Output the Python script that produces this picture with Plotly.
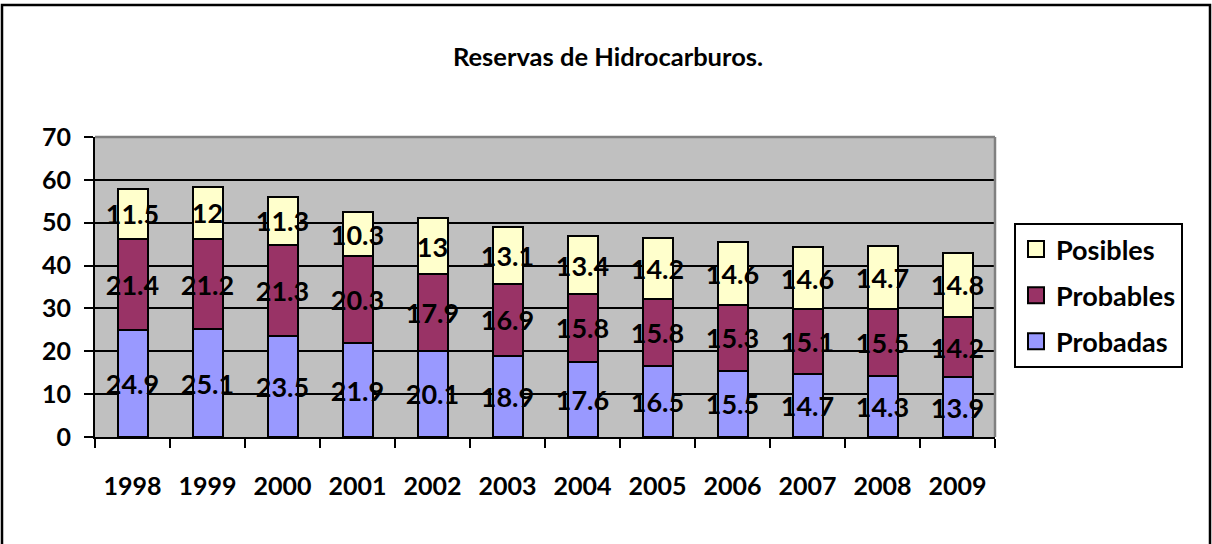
import plotly.graph_objects as go

years = ["1998", "1999", "2000", "2001", "2002", "2003", "2004", "2005", "2006", "2007", "2008", "2009"]
probadas = [24.9, 25.1, 23.5, 21.9, 20.1, 18.9, 17.6, 16.5, 15.5, 14.7, 14.3, 13.9]
probables = [21.4, 21.2, 21.3, 20.3, 17.9, 16.9, 15.8, 15.8, 15.3, 15.1, 15.5, 14.2]
posibles = [11.5, 12, 11.3, 10.3, 13, 13.1, 13.4, 14.2, 14.6, 14.6, 14.7, 14.8]

FONT = "Lato"
W, H = 1212, 544
L, R, T, B = 95, 217, 137, 107
pw, ph = W - L - R, H - T - B

def fmt(v):
    return ("%g" % v)

series = [("Probadas", probadas, "#9999FF", 3),
          ("Probables", probables, "#993366", 2),
          ("Posibles", posibles, "#FFFFCC", 1)]

fig = go.Figure()
for name, vals, col, rank in series:
    fig.add_trace(go.Bar(
        x=years, y=vals, name=name, showlegend=False,
        marker=dict(color=col, line=dict(color="black", width=2)),
        text=[fmt(v) for v in vals], textposition="inside", textangle=0,
        insidetextanchor="middle", constraintext="none",
        textfont=dict(family=FONT, size=27, color="black", weight="bold"),
        cliponaxis=False,
    ))
# legend entries (square swatches with black outline)
for name, vals, col, rank in series:
    fig.add_trace(go.Scatter(
        x=[None], y=[None], mode="markers", name=name, legendgroup=name, legendrank=rank,
        marker=dict(symbol="square", size=17, color=col, line=dict(color="black", width=2)),
    ))

def px_x(p):
    return (p - L) / pw

def px_y(p):
    return (H - B - p) / ph

shapes = [
    dict(type="rect", xref="paper", yref="paper",
         x0=px_x(2), x1=px_x(1210), y0=px_y(560), y1=px_y(5),
         line=dict(color="black", width=2.5), fillcolor="rgba(0,0,0,0)", layer="below"),
    dict(type="line", xref="paper", yref="paper", x0=0, x1=1, y0=1, y1=1,
         line=dict(color="#808080", width=2.5)),
    dict(type="line", xref="paper", yref="paper", x0=1, x1=1, y0=0, y1=1,
         line=dict(color="#808080", width=2.5)),
]

fig.update_layout(
    width=W, height=H,
    margin=dict(l=L, r=R, t=T, b=B),
    paper_bgcolor="white", plot_bgcolor="#C0C0C0",
    barmode="stack", bargap=0.6,
    font=dict(family=FONT, color="black"),
    title=dict(text="<b>Reservas de Hidrocarburos.</b>", x=px_x(608), xref="paper",
               y=1 - 57 / H, yanchor="middle", xanchor="center",
               font=dict(family=FONT, size=25.5, color="black")),
    legend=dict(x=px_x(1014), y=px_y(223), xanchor="left", yanchor="top",
                bordercolor="black", borderwidth=2, bgcolor="white",
                traceorder="grouped", tracegroupgap=8,
                font=dict(family=FONT, size=27, color="black", weight="bold"),
                itemwidth=30),
    shapes=shapes,
    showlegend=True,
)
fig.update_yaxes(range=[0, 70], dtick=10, showgrid=True, gridcolor="black", gridwidth=1.5,
                 showline=True, linecolor="black", linewidth=2, ticks="outside", ticklen=9,
                 tickcolor="black", tickwidth=2, zeroline=False,
                 tickfont=dict(family=FONT, size=25, color="black", weight="bold"),
                 ticklabelstandoff=8)
fig.update_xaxes(type="category", showline=True, linecolor="black", linewidth=2,
                 ticks="outside", ticklen=9, tickcolor="black", tickwidth=2,
                 tickson="boundaries", showgrid=False,
                 tickfont=dict(family=FONT, size=25, color="black", weight="bold"),
                 ticklabelstandoff=26)

fig.write_html("out.html", config={"displayModeBar": False},
               post_script="document.body.style.margin='0';document.body.style.overflow='hidden';")
